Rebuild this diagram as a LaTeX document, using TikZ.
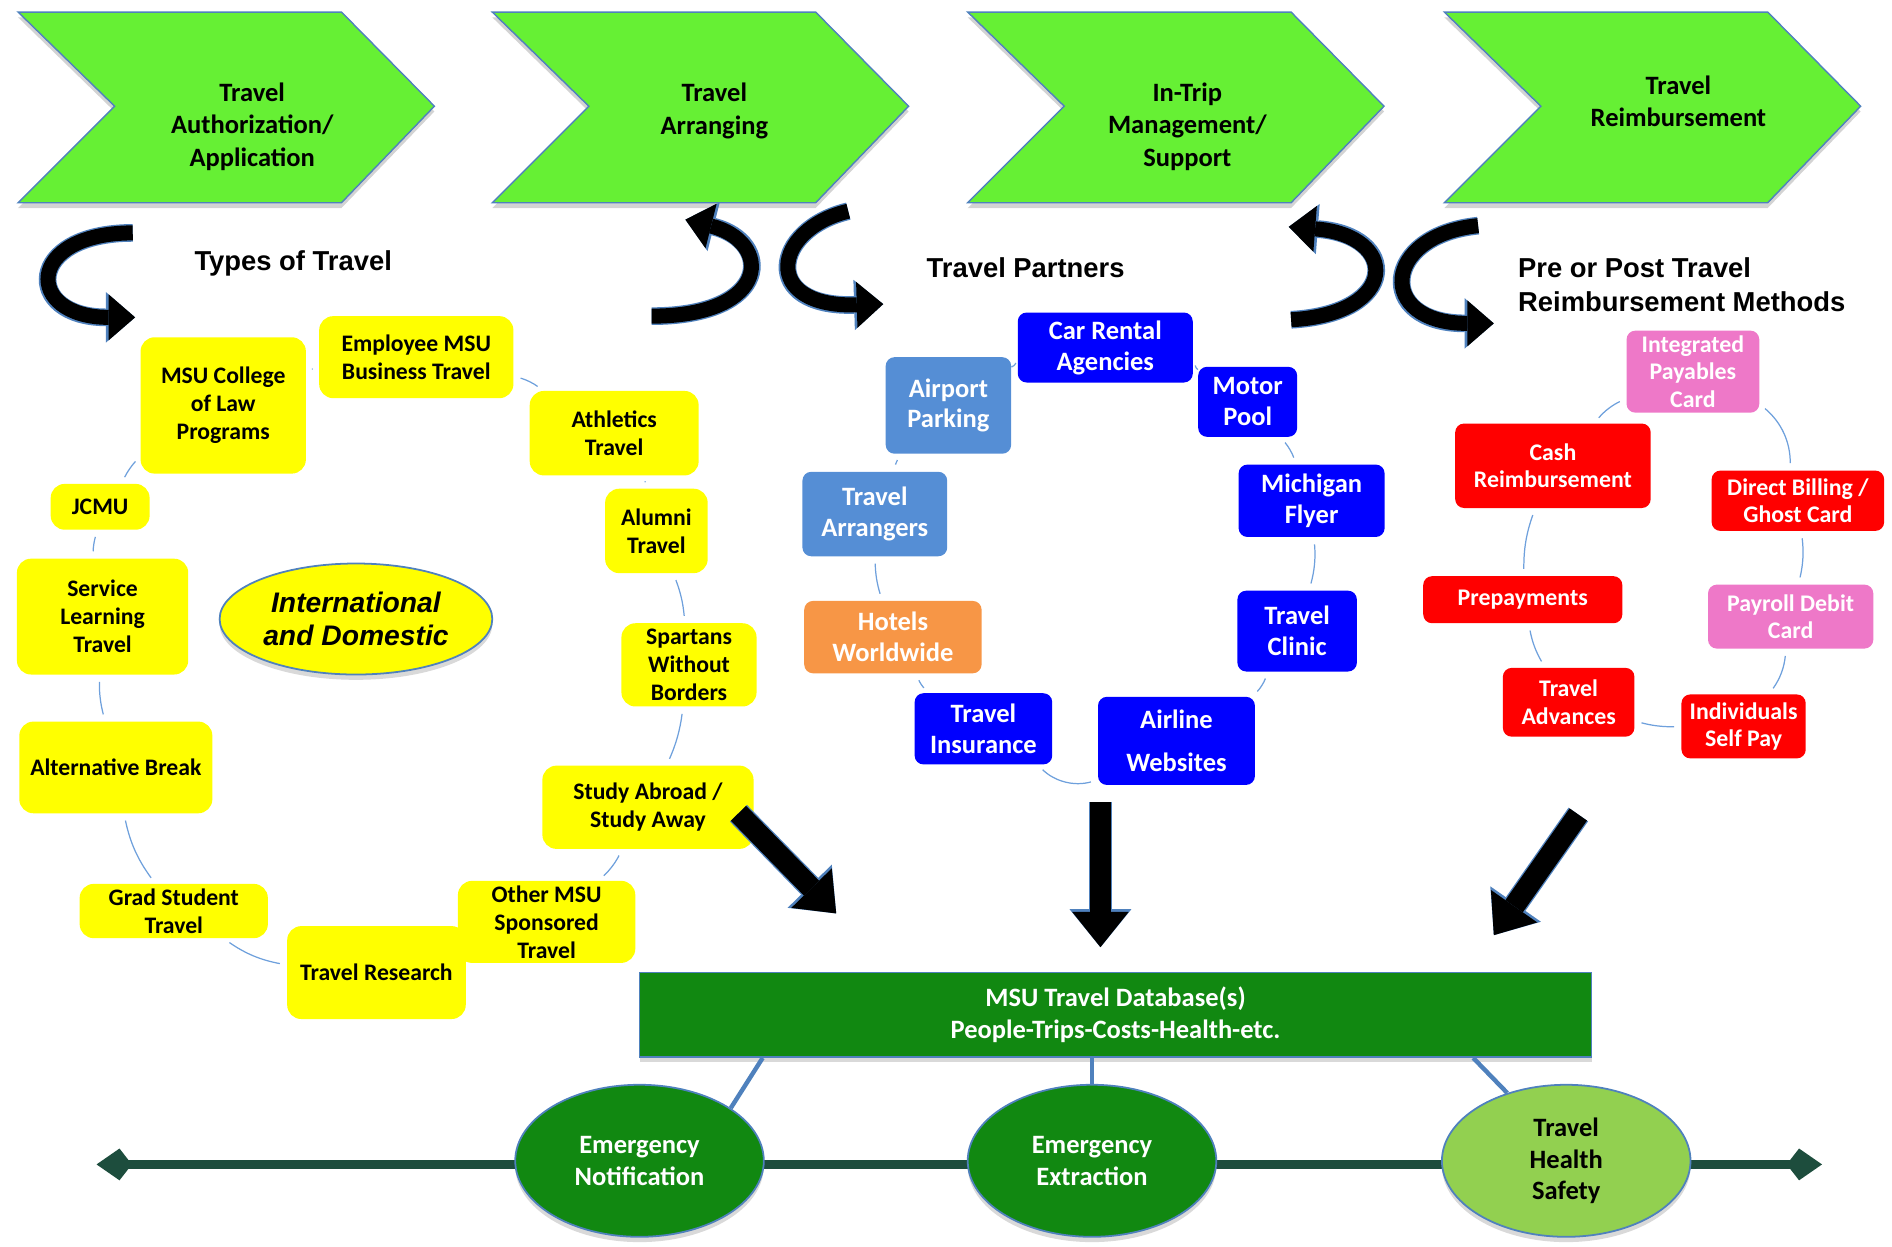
\documentclass[tikz,border=0pt]{standalone}
\usepackage{fontspec}
\setmainfont{Carlito}
\newfontfamily\headfont{Liberation Sans}
\usetikzlibrary{arrows.meta,shapes.geometric,shadows,calc}

\definecolor{chevgreen}{RGB}{102,240,52}
\definecolor{outline}{RGB}{79,129,189}
\definecolor{linkblue}{RGB}{110,160,220}
\definecolor{ylw}{RGB}{255,255,0}
\definecolor{ptblue}{RGB}{0,0,255}
\definecolor{steel}{RGB}{85,142,213}
\definecolor{orng}{RGB}{247,150,70}
\definecolor{rd}{RGB}{255,0,0}
\definecolor{pnk}{RGB}{238,120,200}
\definecolor{dbgreen}{RGB}{17,136,17}
\definecolor{lgreen}{RGB}{146,208,80}
\definecolor{axisgreen}{RGB}{29,77,61}

\tikzset{
  every phase/.style={fill=chevgreen, draw=outline, line width=0.8pt,
    drop shadow={opacity=0.35, shadow xshift=0pt, shadow yshift=-3pt}},
  phase text/.style={align=center, font=\fontsize{15}{18.5}\selectfont\bfseries},
  heading/.style={align=left, font=\headfont\bfseries\fontsize{15.5}{19}\selectfont},
  every travel/.style={fill=ylw, rounded corners=8pt, align=center, inner sep=2pt,
    font=\fontsize{13.4}{15.8}\selectfont\bfseries},
  every partner/.style={fill=ptblue, text=white, rounded corners=5pt, align=center, inner sep=2pt,
    font=\fontsize{15}{17.5}\selectfont\bfseries},
  partner 5/.style={font=\fontsize{15}{24}\selectfont\bfseries},
  partner 7/.style={fill=orng},
  partner 8/.style={fill=steel},
  partner 9/.style={fill=steel},
  every method/.style={fill=rd, text=white, rounded corners=5pt, align=center, inner sep=2pt,
    font=\fontsize{13.5}{15.5}\selectfont\bfseries},
  method 1/.style={fill=pnk},
  method 3/.style={fill=pnk},
  link/.style={draw=linkblue, line width=0.7pt, shorten >=4pt, shorten <=4pt},
  swoosh/.style={draw=black, line width=8.5pt,
    -{Triangle[length=15pt, width=26pt, line width=0pt]},
    preaction={draw=outline, line width=10pt, -{Triangle[length=16.5pt, width=28.5pt, line width=0pt]}}},
  bigarrow/.style={draw=black, line width=12pt,
    -{Triangle[length=20pt, width=32pt, line width=0pt]},
    preaction={draw=outline, line width=13.5pt, -{Triangle[length=21.5pt, width=35pt, line width=0pt]}}},
  database/.style={fill=dbgreen, draw=outline, line width=1pt, text=white, align=center, inner sep=0pt,
    minimum width=789*0.24mm, minimum height=70*0.24mm, font=\fontsize{15}{18.5}\selectfont\bfseries,
    drop shadow={opacity=0.3, shadow xshift=0pt, shadow yshift=-3pt}},
  dblink/.style={draw=outline, line width=2.5pt},
  axis/.style={draw=axisgreen, line width=5pt,
    {Kite[length=20pt, width=18pt, inset=7pt, line width=0pt]}-{Kite[length=20pt, width=18pt, inset=7pt, line width=0pt]}},
  every hub/.style={ellipse, draw=outline, line width=1pt, fill=dbgreen, text=white, align=center, inner sep=0pt,
    minimum width=206*0.24mm, minimum height=126*0.24mm, font=\fontsize{15}{18}\selectfont\bfseries,
    drop shadow={opacity=0.3, shadow xshift=0pt, shadow yshift=-3pt}},
  hub 3/.style={fill=lgreen, text=black}
}

\begin{document}
\begin{tikzpicture}[x=0.24mm, y=-0.24mm]
\useasboundingbox (0,0) rectangle (1568,1033);

% define process chevrons
\foreach \x/\tx/\ty/\txt [count=\i] in {15/209/105/{Travel\\Authorization/\\Application},
    408/592/92/{Travel\\Arranging}, 802/984/105/{In-Trip\\Management/\\Support},
    1197/1391/84/{Travel\\Reimbursement}}
{
  \draw [every phase/.try] (\x,10) -- ++(268,0) -- ++(77,78) -- ++(-77,80) -- ++(-268,0) -- ++(80,-80) -- cycle;
  \node [phase text] (phase-\i) at (\tx,\ty) {\txt};
}

% draw group headings
\node [heading] (types-title) at (243,218) {Types of Travel};
\node [heading] (partners-title) at (850,222) {Travel Partners};
\node [heading, anchor=west] (methods-title) at (1253,236) {Pre or Post Travel\\Reimbursement Methods};

% draw curved arrows below the chevrons
\draw [swoosh] (110,193) .. controls (20,193) and (20,263) .. (112,263);
\draw [swoosh] (540,262) .. controls (640,262) and (640,200) .. (568,182);
\draw [swoosh] (703,175) .. controls (640,190) and (630,255) .. (732,252);
\draw [swoosh] (1070,265) .. controls (1160,260) and (1160,195) .. (1068,188);
\draw [swoosh] (1225,187) .. controls (1145,195) and (1140,268) .. (1238,268);

% define types of travel
\foreach \px/\py/\w/\h/\txt [count=\m] in {345/296/161/68/{Employee MSU\\Business Travel},
    509/359/140/70/{Athletics\\Travel}, 544/440/85/70/{Alumni\\Travel},
    571/551/112/69/{Spartans\\Without\\Borders}, 537/669/175/69/{Study Abroad /\\Study Away},
    453/764/147/68/{Other MSU\\Sponsored\\Travel}, 312/806/148/77/{Travel Research},
    144/755/156/45/{Grad Student\\Travel}, 96/636/160/76/{Alternative Break},
    85/511/142/96/{Service\\Learning\\Travel}, 83/420/82/38/{JCMU},
    185/336/137/113/{MSU College\\of Law\\Programs}}
  \node [every travel/.try, travel \m/.try, minimum width=\w*0.24mm, minimum height=\h*0.24mm]
    (travel-\m) at (\px,\py) {\txt};

\node [ellipse, draw=outline, line width=1pt, fill=ylw, inner sep=0pt, align=center,
  minimum width=226*0.24mm, minimum height=92*0.24mm,
  drop shadow={opacity=0.3, shadow xshift=0pt, shadow yshift=-3pt},
  font=\headfont\bfseries\itshape\fontsize{16}{19}\selectfont] (travel-scope) at (295,513)
  {International\\and Domestic};

% connect types of travel
\foreach \i/\j/\b in {1/2/10, 2/3/10, 3/4/8, 4/5/8, 5/6/10, 7/8/12, 8/9/12, 9/10/8, 10/11/8, 11/12/8, 12/1/8}
  \draw [link] (travel-\i) to [bend left=\b] (travel-\j);

% define travel partners
\foreach \px/\py/\w/\h/\txt [count=\m] in {916/288/145/58/{Car Rental\\Agencies},
    1034/333/82/58/{Motor\\Pool}, 1087/415/121/60/{Michigan\\Flyer},
    1075/523/99/67/{Travel\\Clinic}, 975/614/130/73/{Airline\\Websites},
    815/604/114/59/{Travel\\Insurance}, 740/528/147/60/{Hotels\\Worldwide},
    725/426/120/70/{Travel\\Arrangers}, 786/336/104/80/{Airport\\Parking}}
  \node [every partner/.try, partner \m/.try, minimum width=\w*0.24mm, minimum height=\h*0.24mm]
    (partner-\m) at (\px,\py) {\txt};

% connect travel partners
\foreach \i/\j/\b in {1/2/10, 2/3/10, 3/4/10, 4/5/12, 5/6/30, 6/7/12, 7/8/8, 8/9/10, 9/1/10}
  \draw [link] (partner-\i) to [bend left=\b] (partner-\j);

% define reimbursement methods
\foreach \px/\py/\w/\h/\txt [count=\m] in {1403/308/110/68/{Integrated\\Payables\\Card},
    1490/415/143/50/{Direct Billing /\\Ghost Card}, 1484/511/137/53/{Payroll Debit\\Card},
    1445/602/103/53/{Individuals\\Self Pay}, 1300/582/109/57/{Travel\\Advances},
    1262/497/165/39/{Prepayments}, 1287/386/162/70/{Cash\\Reimbursement}}
  \node [every method/.try, method \m/.try, minimum width=\w*0.24mm, minimum height=\h*0.24mm]
    (method-\m) at (\px,\py) {\txt};

% connect reimbursement methods
\foreach \i/\j/\b in {1/2/25, 2/3/10, 3/4/15, 4/5/8, 5/6/10, 6/7/10, 7/1/12}
  \draw [link] (method-\i) to [bend left=\b] (method-\j);

% draw arrows into the database
\coordinate (feed-1) at (612,674);
\coordinate (drop-1) at (693,757);
\coordinate (feed-2) at (912,665);
\coordinate (drop-2) at (912,785);
\coordinate (feed-3) at (1308,675);
\coordinate (drop-3) at (1238,775);
\foreach \i in {1,2,3}
  \draw [bigarrow] (feed-\i) -- (drop-\i);

% define database and axis
\node [database] (db) at (924.5,841) {MSU Travel Database(s)\\People-Trips-Costs-Health-etc.};

\coordinate (axis-left) at (80,965);
\coordinate (axis-right) at (1510,965);
\draw [axis] (axis-left) -- (axis-right);

% define hubs on the axis
\foreach \px/\txt [count=\i] in {530/{Emergency\\Notification}, 905/{Emergency\\Extraction},
    1298/{Travel\\Health\\Safety}}
  \node [every hub/.try, hub \i/.try] (hub-\i) at (\px,962) {\txt};

% connect database to hubs
\draw [dblink] ($(db.south west)!0.13!(db.south east)$) -- (hub-1.30);
\draw [dblink] (db.south -| hub-2.north) -- (hub-2.north);
\draw [dblink] ($(db.south west)!0.875!(db.south east)$) -- (hub-3.131);

\end{tikzpicture}
\end{document}
